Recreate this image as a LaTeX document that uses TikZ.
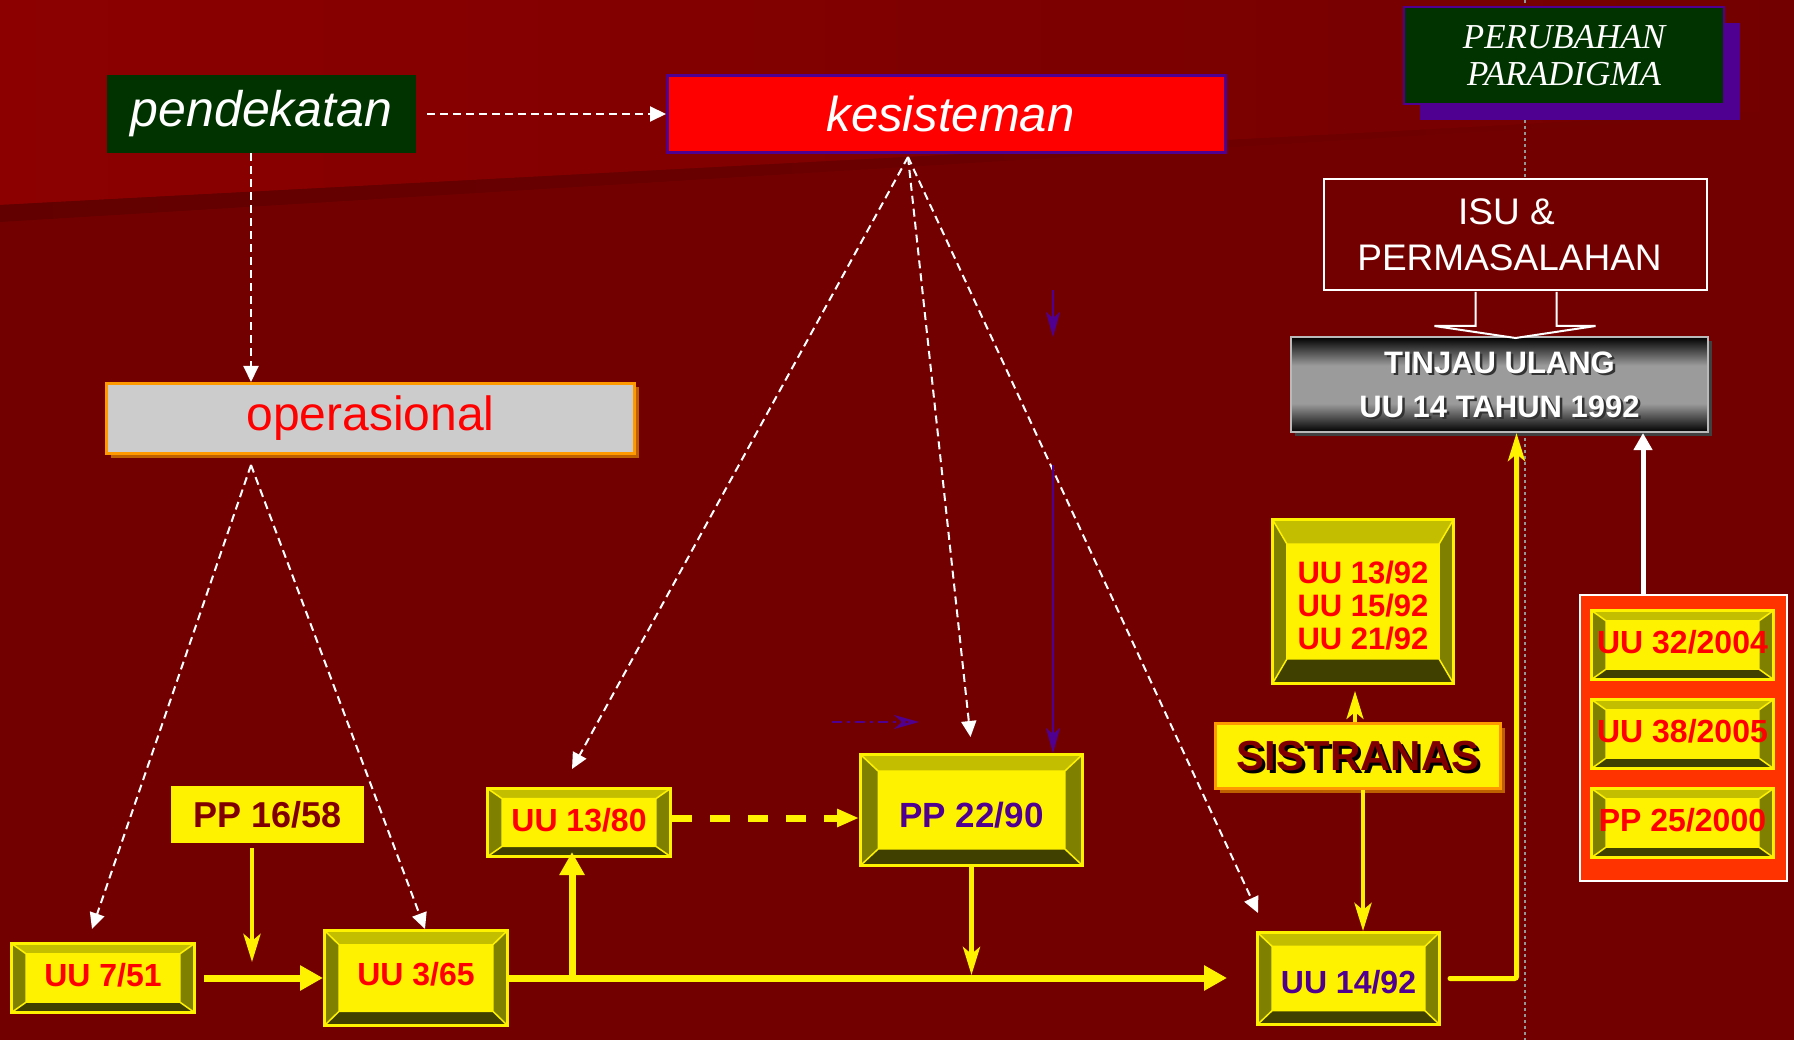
\documentclass[tikz,border=0pt]{standalone}
\usepackage{fontspec}
\setmainfont{Liberation Sans}
\newfontfamily\paraserif{Liberation Serif}
\usetikzlibrary{arrows.meta,positioning,calc,shadows}

\definecolor{bgred}{RGB}{115,0,0}
\definecolor{topred}{RGB}{140,0,0}
\definecolor{seamred}{RGB}{98,0,0}
\definecolor{dkgreen}{RGB}{0,51,0}
\definecolor{ungu}{RGB}{80,0,145}
\definecolor{bevtop}{RGB}{196,190,0}
\definecolor{bevside}{RGB}{128,128,0}
\definecolor{bevbot}{RGB}{64,64,0}
\definecolor{jingga}{RGB}{255,153,0}
\definecolor{jinggash}{RGB}{190,95,0}
\definecolor{merahjingga}{RGB}{255,51,0}
\definecolor{marun}{RGB}{128,0,0}
\definecolor{abu}{RGB}{150,150,150}
\definecolor{abumuda}{RGB}{155,155,155}

\pgfdeclareverticalshading{tinjaushade}{100bp}{color(0bp)=(black); color(25bp)=(black);
    color(40bp)=(abumuda); color(60bp)=(abumuda); color(75bp)=(black); color(100bp)=(black)}

\newcommand\bevelfaces{%
    \pgfpointanchor{path picture bounding box}{south west}\pgfgetlastxy\bxa\bya
    \pgfpointanchor{path picture bounding box}{north east}\pgfgetlastxy\bxb\byb
    \pgfmathsetlengthmacro\bdx{0.08*(\bxb-\bxa)}%
    \pgfmathsetlengthmacro\bdy{0.15*(\byb-\bya)}%
    \fill[bevtop] (\bxa,\byb) -- (\bxb,\byb) -- (\bxb-\bdx,\byb-\bdy) -- (\bxa+\bdx,\byb-\bdy) -- cycle;
    \fill[bevbot] (\bxa,\bya) -- (\bxb,\bya) -- (\bxb-\bdx,\bya+\bdy) -- (\bxa+\bdx,\bya+\bdy) -- cycle;
    \fill[bevside] (\bxa,\bya) -- (\bxa,\byb) -- (\bxa+\bdx,\byb-\bdy) -- (\bxa+\bdx,\bya+\bdy) -- cycle;
    \fill[bevside] (\bxb,\bya) -- (\bxb,\byb) -- (\bxb-\bdx,\byb-\bdy) -- (\bxb-\bdx,\bya+\bdy) -- cycle;
    \draw[yellow,line width=1.5pt] (\bxa,\bya) -- (\bxa+\bdx,\bya+\bdy) rectangle (\bxb-\bdx,\byb-\bdy) -- (\bxb,\byb)
        (\bxa,\byb) -- (\bxa+\bdx,\byb-\bdy) (\bxb,\bya) -- (\bxb-\bdx,\bya+\bdy);
}

\tikzset{
    bevelbox/.style={draw=yellow, line width=3pt, fill=yellow, inner sep=0pt, text=red,
        font=\bfseries\fontsize{32}{32}\selectfont, text depth=0pt, text height=23pt, path picture={\bevelfaces}},
    wdash/.style={white, line width=2pt, dash pattern=on 8pt off 5pt, -{Triangle[length=16pt,width=15pt]}},
    ythick/.style={yellow, line width=7pt, -{Triangle[length=23pt,width=24pt]}},
    ythin/.style={yellow, line width=4.5pt, -{Stealth[length=28pt,width=17pt,inset=7pt]}},
    ydash/.style={yellow, line width=7pt, dash pattern=on 20pt off 18pt, -{Triangle[length=22pt,width=17pt]}},
    ungupanah/.style={ungu, line width=2.5pt, -{Stealth[length=25pt,width=14pt,inset=6pt]}},
    orshadow/.style={drop shadow={shadow xshift=4pt, shadow yshift=-4pt, fill=jinggash, opacity=1}},
}

\begin{document}
\begin{tikzpicture}[x=1pt,y=-1pt]
    \useasboundingbox (0,0) rectangle (1794,1040);
    \fill[bgred] (0,0) rectangle (1794,1040);
    \shade[left color=topred, right color=bgred] (0,0) -- (1794,0) -- (1794,110) -- (0,205) -- cycle;
    \shade[left color=seamred, right color=bgred] (0,205) -- (1794,110) -- (1794,113) -- (0,222) -- cycle;
    \draw[abu, line width=2.5pt, dash pattern=on 3pt off 3pt] (1525,0) -- (1525,1040);

    \node[fill=dkgreen, minimum width=309pt, minimum height=78pt, text=white,
        font=\itshape\fontsize{50}{60}\selectfont] (pend) at (261.5,114) {pendekatan};
    \node[fill=red, draw=ungu, line width=3pt, minimum width=558pt, minimum height=77pt, text=white,
        font=\itshape\fontsize{49}{60}\selectfont] (kes) at (946.5,114) {\hspace*{8pt}kesisteman};
    \node[fill=dkgreen, draw=ungu, line width=2pt, minimum width=320pt, minimum height=97pt, text=white,
        align=center, font=\paraserif\itshape\fontsize{35}{37}\selectfont,
        drop shadow={shadow xshift=16pt, shadow yshift=-16pt, fill=ungu, opacity=1}] (perub) at (1564,55.5) {PERUBAHAN\\PARADIGMA};
    \node[fill=bgred, draw=white, line width=2pt, minimum width=383pt, minimum height=111pt, text=white,
        align=center, font=\fontsize{37}{46}\selectfont] (isu) at (1515.5,234.5) {ISU \&\hspace*{18pt}\\PERMASALAHAN\hspace*{12pt}};
    \node[shading=tinjaushade, draw=gray!55, line width=2pt,
        minimum width=417pt, minimum height=95pt, text=white, align=center, font=\bfseries\fontsize{31}{44}\selectfont,
        drop shadow={shadow xshift=4pt, shadow yshift=-4pt, fill=gray!50!black, opacity=1},
        path picture={\node[text=black!80, align=center, font=\bfseries\fontsize{31}{44}\selectfont]
            at ([shift={(2.5pt,-2.5pt)}]path picture bounding box.center) {TINJAU ULANG\\UU 14 TAHUN 1992};}]
        (tinjau) at (1499.5,384.5) {TINJAU ULANG\\UU 14 TAHUN 1992};
    \filldraw[fill=bgred, draw=white, line width=2pt] ($(isu.south)+(-40,1)$) -- ++(0,34) -- ++(-41,0)
        -- ($(isu.south)+(0,47)$) -- ++(80,-12) -- ++(-39,0) -- ++(0,-34);
    \node[fill=gray!40, draw=jingga, line width=3pt, minimum width=528pt, minimum height=70pt, text=red,
        font=\fontsize{48}{58}\selectfont, orshadow] (oper) at (370.5,418.5) {operasional};

    \node[bevelbox, minimum width=183pt, minimum height=69pt, text height=17pt] (u751) at (103,978) {UU 7/51};
    \node[bevelbox, minimum width=183pt, minimum height=95pt, text height=14pt] (u365) at (416,978) {UU 3/65};
    \node[fill=yellow, minimum width=193pt, minimum height=57pt, text=marun,
        font=\bfseries\fontsize{36}{40}\selectfont] (pp1658) at (267.5,814.5) {PP 16/58};
    \node[bevelbox, minimum width=183pt, minimum height=68pt, text height=18pt] (u1380) at (579,822.5) {UU 13/80};
    \node[bevelbox, minimum width=222pt, minimum height=111pt, text=ungu, text height=35pt,
        font=\bfseries\fontsize{35}{40}\selectfont] (pp2290) at (971.5,810) {PP 22/90};
    \node[bevelbox, minimum width=181pt, minimum height=164pt, align=center, text height=96pt,
        font=\bfseries\fontsize{31}{33}\selectfont] (u1392) at (1363,601.5) {UU 13/92\\UU 15/92\\UU 21/92};
    \node[fill=yellow, draw=jingga, line width=3pt, minimum width=285pt, minimum height=65pt, text=marun,
        font=\bfseries\fontsize{42}{50}\selectfont, orshadow,
        path picture={\node[text=black, font=\bfseries\fontsize{42}{50}\selectfont]
            at ([shift={(3pt,-3pt)}]path picture bounding box.center) {SISTRANAS};}] (sist) at (1358,756) {SISTRANAS};
    \node[bevelbox, minimum width=182pt, minimum height=92pt, text=ungu, text height=30pt] (u1492) at (1348.5,978.5) {UU 14/92};
    \node[fill=merahjingga, draw=white, line width=2pt, minimum width=207pt, minimum height=286pt] (obox) at (1683.5,738) {};
    \node[bevelbox, minimum width=182pt, minimum height=69pt, text height=17pt] (u3204) at (1682.5,645) {UU 32/2004};
    \node[bevelbox, minimum width=182pt, minimum height=69pt, text height=17pt, below=17pt of u3204] (u3805) {UU 38/2005};
    \node[bevelbox, minimum width=182pt, minimum height=69pt, text height=17pt, below=17pt of u3805] (p2500) {PP 25/2000};

    \coordinate (opapex) at (251,465);
    \coordinate (ksapex) at (908,157);
    \draw[wdash, shorten <=11pt] (pend) -- (kes);
    \draw[wdash] ($(pend.south)+(-10.5,0)$) -- ($(pend.south |- oper.north)+(-10.5,0)$);
    \draw[wdash] (opapex) -- ($(u751.north)+(-11,-13)$);
    \draw[wdash] (opapex) -- ($(u365.north)+(9,0)$);
    \draw[wdash] (ksapex) -- ($(u1380.north)+(-7,-18)$);
    \draw[wdash] (ksapex) -- ($(pp2290.north)+(-1,-16)$);
    \draw[wdash] (ksapex) -- ($(u1492.north west)+(2,-18)$);

    \coordinate (ungu1) at (1053,290);
    \coordinate (ungu2) at (1053,337);
    \coordinate (ungu3) at (1053,465);
    \coordinate (ungu4) at (832,722);
    \coordinate (ungu5) at (919,722);
    \draw[ungupanah] (ungu1) -- (ungu2);
    \draw[ungupanah] (ungu3) -- (ungu3 |- pp2290.north);
    \draw[ungu, line width=2.5pt, dash pattern=on 10pt off 5pt on 3pt off 5pt,
        -{Stealth[length=25pt,width=14pt,open]}] (ungu4) -- (ungu5);

    \coordinate (mainend) at ($(u1492.west)+(-29,-0.5)$);
    \coordinate (cabang) at (572,978);
    \coordinate (dsh) at (u1380.east |- 0,818);
    \draw[ythick, shorten <=8pt] (u751) -- (u365);
    \draw[ythick] (u365.east) -- (mainend);
    \draw[ythick] (cabang) -- ($(cabang |- u1380.south)+(0,-6)$);
    \draw[ythin, shorten <=5pt] ($(pp1658.south)+(-15.5,0)$) -- ($(pp1658.south |- u751.north)+(-15.5,20)$);
    \draw[ythin] (pp2290.south) -- ($(pp2290.south |- mainend)+(0,-3)$);
    \draw[ydash] (dsh) -- (dsh -| pp2290.west);
    \draw[ythin, line width=3.5pt] ($(sist.north)+(-3,0)$) -- ($(sist.north |- u1392.south)+(-3,6)$);
    \draw[ythin] ($(sist.south)+(5,0)$) -- ($(sist.south |- u1492.north)+(5,0)$);
    \draw[ythin, line width=5pt, line cap=round, rounded corners=2pt] ($(u1492.east)+(9,0)$) -| ($(tinjau.south)+(17,0)$);
    \draw[white, line width=5pt, -{Triangle[length=17pt,width=18pt]}] ($(obox.north)+(-40.5,0)$) -- ($(obox.north |- tinjau.south)+(-40.5,0)$);
\end{tikzpicture}
\end{document}
